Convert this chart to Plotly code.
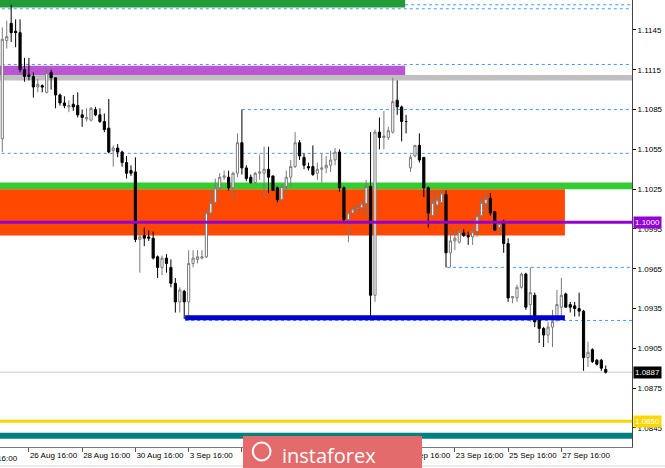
import plotly.graph_objects as go

# ---------------- data (EURUSD H4) ----------------
bar_index = list(range(137))
opens = [1.1063, 1.1137, 1.1150, 1.1144, 1.1143, 1.1115, 1.1111, 1.1110, 1.1102, 1.1103,
         1.1098, 1.1113, 1.1109, 1.1096, 1.1090, 1.1087, 1.1089, 1.1088, 1.1081, 1.1078,
         1.1077, 1.1085, 1.1081, 1.1076, 1.1071, 1.1054, 1.1056, 1.1053, 1.1045, 1.1039,
         1.1038, 1.0987, 1.0990, 1.0989, 1.0988, 1.0974, 1.0966, 1.0973, 1.0966, 1.0954,
         1.0940, 1.0948, 1.0940, 1.0969, 1.0972, 1.0973, 1.0974, 1.1007, 1.1015, 1.1026,
         1.1034, 1.1034, 1.1026, 1.1037, 1.1060, 1.1041, 1.1034, 1.1030, 1.1037, 1.1037,
         1.1040, 1.1035, 1.1026, 1.1017, 1.1027, 1.1034, 1.1042, 1.1060, 1.1049, 1.1042,
         1.1042, 1.1037, 1.1040, 1.1041, 1.1043, 1.1047, 1.1053, 1.1026, 1.1002, 1.1007,
         1.1010, 1.1011, 1.1014, 1.1027, 1.0945, 1.1068, 1.1064, 1.1064, 1.1068, 1.1092,
         1.1087, 1.1076, 1.1041, 1.1050, 1.1058, 1.1049, 1.1026, 1.1005, 1.1013, 1.1015,
         1.1021, 1.0977, 1.0986, 1.0985, 1.0992, 1.0990, 1.0989, 1.0993, 1.1005, 1.1014,
         1.1018, 1.1008, 1.0996, 1.1000, 1.0984, 1.0943, 1.0943, 1.0951, 1.0961, 1.0938,
         1.0945, 1.0928, 1.0920, 1.0915, 1.0921, 1.0926, 1.0936, 1.0946, 1.0938, 1.0937,
         1.0935, 1.0933, 1.0898, 1.0904, 1.0896, 1.0896, 1.0889]
highs = [1.1147, 1.1152, 1.1164, 1.1153, 1.1153, 1.1124, 1.1124, 1.1113, 1.1108, 1.1104,
         1.1116, 1.1115, 1.1109, 1.1097, 1.1095, 1.1092, 1.1096, 1.1098, 1.1085, 1.1086,
         1.1087, 1.1087, 1.1086, 1.1082, 1.1093, 1.1058, 1.1059, 1.1054, 1.1050, 1.1043,
         1.1049, 1.0996, 1.0996, 1.0994, 1.0993, 1.0975, 1.0975, 1.0976, 1.0972, 1.0958,
         1.0951, 1.0949, 1.0979, 1.0979, 1.0979, 1.0979, 1.1009, 1.1024, 1.1033, 1.1037,
         1.1039, 1.1039, 1.1038, 1.1067, 1.1085, 1.1043, 1.1036, 1.1038, 1.1051, 1.1057,
         1.1057, 1.1035, 1.1027, 1.1029, 1.1039, 1.1047, 1.1068, 1.1062, 1.1052, 1.1045,
         1.1058, 1.1045, 1.1052, 1.1050, 1.1054, 1.1056, 1.1055, 1.1027, 1.1009, 1.1012,
         1.1014, 1.1016, 1.1032, 1.1068, 1.1070, 1.1079, 1.1084, 1.1072, 1.1109, 1.1107,
         1.1088, 1.1081, 1.1051, 1.1058, 1.1067, 1.1049, 1.1027, 1.1021, 1.1024, 1.1024,
         1.1024, 1.0994, 1.0994, 1.0995, 1.0995, 1.0993, 1.0996, 1.1008, 1.1019, 1.1024,
         1.1022, 1.1008, 1.1002, 1.1002, 1.0988, 1.0944, 1.0953, 1.0962, 1.0962, 1.0966,
         1.0947, 1.0929, 1.0921, 1.0925, 1.0934, 1.0949, 1.0958, 1.0947, 1.0940, 1.0940,
         1.0947, 1.0934, 1.0910, 1.0905, 1.0897, 1.0897, 1.0892]
lows = [1.1053, 1.1131, 1.1136, 1.1132, 1.1113, 1.1106, 1.1107, 1.1094, 1.1098, 1.1098,
        1.1097, 1.1100, 1.1086, 1.1088, 1.1086, 1.1083, 1.1084, 1.1079, 1.1072, 1.1076,
        1.1076, 1.1080, 1.1075, 1.1068, 1.1052, 1.1042, 1.1049, 1.1042, 1.1033, 1.1035,
        1.0985, 1.0962, 1.0982, 1.0986, 1.0972, 1.0958, 1.0960, 1.0962, 1.0951, 1.0932,
        1.0932, 1.0927, 1.0926, 1.0966, 1.0969, 1.0972, 1.0973, 1.1004, 1.1014, 1.1024,
        1.1032, 1.1024, 1.1017, 1.1034, 1.1036, 1.1031, 1.1029, 1.1029, 1.1032, 1.1019,
        1.1022, 1.1024, 1.1015, 1.1015, 1.1022, 1.1027, 1.1041, 1.1047, 1.1040, 1.1039,
        1.1035, 1.1032, 1.1030, 1.1037, 1.1038, 1.1043, 1.1023, 1.1001, 1.0985, 1.1006,
        1.1007, 1.1009, 1.1005, 1.0926, 1.0940, 1.1055, 1.1055, 1.1062, 1.1067, 1.1081,
        1.1061, 1.1067, 1.1038, 1.1049, 1.1045, 1.1019, 1.0996, 1.1004, 1.1005, 1.1015,
        1.0966, 1.0966, 1.0979, 1.0984, 1.0989, 1.0983, 1.0983, 1.0989, 1.1004, 1.1008,
        1.1005, 1.0994, 1.0992, 1.0977, 1.0940, 1.0939, 1.0940, 1.0950, 1.0934, 1.0925,
        1.0921, 1.0909, 1.0906, 1.0909, 1.0906, 1.0925, 1.0928, 1.0936, 1.0932, 1.0929,
        1.0929, 1.0888, 1.0891, 1.0894, 1.0892, 1.0888, 1.0886]
closes = [1.1138, 1.1140, 1.1143, 1.1143, 1.1115, 1.1110, 1.1110, 1.1102, 1.1104, 1.1102,
          1.1113, 1.1109, 1.1096, 1.1090, 1.1088, 1.1088, 1.1087, 1.1081, 1.1079, 1.1079,
          1.1086, 1.1081, 1.1076, 1.1070, 1.1053, 1.1056, 1.1053, 1.1045, 1.1037, 1.1037,
          1.0987, 1.0989, 1.0988, 1.0988, 1.0973, 1.0966, 1.0973, 1.0969, 1.0954, 1.0940,
          1.0949, 1.0940, 1.0969, 1.0973, 1.0974, 1.0974, 1.1007, 1.1015, 1.1026, 1.1034,
          1.1035, 1.1026, 1.1037, 1.1060, 1.1041, 1.1033, 1.1030, 1.1037, 1.1038, 1.1040,
          1.1034, 1.1024, 1.1017, 1.1027, 1.1034, 1.1042, 1.1060, 1.1050, 1.1043, 1.1041,
          1.1036, 1.1040, 1.1041, 1.1043, 1.1047, 1.1053, 1.1026, 1.1002, 1.1007, 1.1010,
          1.1011, 1.1014, 1.1027, 1.0945, 1.1068, 1.1064, 1.1065, 1.1069, 1.1091, 1.1087,
          1.1076, 1.1076, 1.1049, 1.1058, 1.1047, 1.1026, 1.1007, 1.1015, 1.1017, 1.1022,
          1.0977, 1.0986, 1.0988, 1.0993, 1.0990, 1.0989, 1.0993, 1.1005, 1.1015, 1.1018,
          1.1007, 1.0994, 1.0999, 1.0984, 1.0943, 1.0944, 1.0951, 1.0961, 1.0936, 1.0947,
          1.0925, 1.0920, 1.0915, 1.0921, 1.0925, 1.0938, 1.0945, 1.0936, 1.0936, 1.0935,
          1.0933, 1.0898, 1.0902, 1.0895, 1.0893, 1.0890, 1.0887]

x_tick_index = [6, 18, 30, 42, 54, 66, 78, 90, 102, 114, 126]
x_tick_text = ["26 Aug 16:00", "28 Aug 16:00", "30 Aug 16:00", "3 Sep 16:00", "5 Sep 16:00",
               "9 Sep 16:00", "11 Sep 16:00", "19 Sep 16:00", "23 Sep 16:00",
               "25 Sep 16:00", "27 Sep 16:00"]
first_label_text = "22 Aug 16:00"   # label of the tick before the first one (cut at the left edge)

y_tick_vals = [1.0845, 1.0875, 1.0905, 1.0935, 1.0965, 1.0995, 1.1025, 1.1055, 1.1085, 1.1115, 1.1145]
y_tick_text = ["1.0845", "1.0875", "1.0905", "1.0935", "1.0965", "1.0995", "1.1025", "1.1055",
               "1.1085", "1.1115", "1.1145"]

# zones: (low, high, end bar index or None for full width)
zone_dark_green = (1.1162, 1.1175, 90.8)
zone_orchid = (1.1111, 1.1118, 90.8)
band_gray = (1.1107, 1.1111, None)
band_lime = (1.1025, 1.1030, None)
zone_red = (1.0990, 1.1025, 126.8)
# dotted levels: (price, start bar index or None)
dotted_levels = [(1.1164, 90.8), (1.1161, None), (1.1119, None), (1.1085, 54),
                 (1.1052, None), (1.0966, 100.2), (1.0926, 41.2)]
level_purple = 1.1000
level_blue = (1.0928, 41.2, 126.8)
level_gold = 1.0850
level_teal = 1.0839
bid_price = 1.0887

X_RANGE = [-0.518, 141.92]
Y_RANGE = [1.08306, 1.11676]
LABEL_FONT = dict(family="Liberation Sans, Arial", size=8, color="#000000")

fig = go.Figure()
fig.add_trace(go.Candlestick(
    x=bar_index, open=opens, high=highs, low=lows, close=closes,
    increasing=dict(line=dict(color="#7a7a7a", width=1), fillcolor="#ffffff"),
    decreasing=dict(line=dict(color="#000000", width=1), fillcolor="#000000"),
    whiskerwidth=0, showlegend=False, hoverinfo="skip"))

shapes = []


def rect(lo, hi, end, color):
    x1 = X_RANGE[1] + 5 if end is None else end
    shapes.append(dict(type="rect", xref="x", yref="y", x0=X_RANGE[0] - 5, x1=x1,
                       y0=lo, y1=hi, fillcolor=color, line=dict(width=0), layer="below"))


for price, start in dotted_levels:
    x0 = X_RANGE[0] - 5 if start is None else start
    shapes.append(dict(type="line", xref="x", yref="y", x0=x0, x1=X_RANGE[1] + 5,
                       y0=price, y1=price, line=dict(color="#3d9bff", width=1, dash="dot"),
                       layer="below"))

rect(*zone_dark_green, "#229a35")
rect(*zone_orchid, "#bb55d3")
rect(*band_gray, "#c0c0c0")
rect(*band_lime, "#33cc33")
rect(*zone_red, "#ff4800")

shapes.append(dict(type="line", xref="paper", yref="y", x0=0, x1=1, y0=bid_price, y1=bid_price,
                   line=dict(color="#c8c8c8", width=1), layer="below"))
shapes.append(dict(type="line", xref="paper", yref="y", x0=0, x1=1, y0=level_gold, y1=level_gold,
                   line=dict(color="#ffd700", width=3), layer="below"))
shapes.append(dict(type="line", xref="paper", yref="y", x0=0, x1=1, y0=level_teal, y1=level_teal,
                   line=dict(color="#008080", width=6), layer="below"))
shapes.append(dict(type="line", xref="x", yref="y", x0=level_blue[1], x1=level_blue[2],
                   y0=level_blue[0], y1=level_blue[0], line=dict(color="#0000cd", width=5),
                   layer="above"))
shapes.append(dict(type="line", xref="paper", yref="y", x0=0, x1=1, y0=level_purple, y1=level_purple,
                   line=dict(color="#9400d3", width=3), layer="above"))

# bottom light line and instaforex banner
shapes.append(dict(type="line", xref="paper", yref="paper", x0=0, x1=1.06, y0=-0.0425, y1=-0.0425,
                   line=dict(color="#d8d8d8", width=1), layer="above"))
shapes.append(dict(type="rect", xref="paper", yref="paper", x0=0.3845, x1=0.6677, y0=-0.06, y1=0.0246,
                   fillcolor="#e36b6b", line=dict(width=0), layer="above"))
shapes.append(dict(type="circle", xref="paper", yref="paper", x0=0.400, x1=0.428, y0=-0.030, y1=0.010,
                   line=dict(color="#ffffff", width=2), layer="above"))

annotations = [
    dict(xref="paper", yref="paper", x=0, xshift=-32, y=0, xanchor="left", yanchor="top",
         yshift=-5, text=first_label_text, showarrow=False, font=LABEL_FONT),
    dict(xref="paper", yref="paper", x=0.52, y=-0.018, text="instaforex", showarrow=False,
         xanchor="center", yanchor="middle",
         font=dict(family="Open Sans, Lato", size=20, color="#ffffff")),
    dict(xref="paper", yref="y", x=1, xshift=1, y=level_purple, xanchor="left", yanchor="middle",
         text="1.1000", showarrow=False, bgcolor="#9400d3", borderpad=1,
         font=dict(family="Liberation Sans, Arial", size=8, color="#ffffff")),
    dict(xref="paper", yref="y", x=1, xshift=1, y=bid_price, xanchor="left", yanchor="middle",
         text="1.0887", showarrow=False, bgcolor="#000000", borderpad=1,
         font=dict(family="Liberation Sans, Arial", size=8, color="#ffffff")),
    dict(xref="paper", yref="y", x=1, xshift=1, y=level_gold, xanchor="left", yanchor="middle",
         text="1.0850", showarrow=False, bgcolor="#ffd700", borderpad=1,
         font=dict(family="Liberation Sans, Arial", size=8, color="#ffffff")),
]

fig.update_layout(
    template="none",
    width=665, height=468,
    margin=dict(l=0, r=33, t=0, b=21, autoexpand=False),
    paper_bgcolor="#ffffff", plot_bgcolor="#ffffff",
    shapes=shapes, annotations=annotations, showlegend=False,
    xaxis=dict(range=X_RANGE, tickmode="array", tickvals=x_tick_index, ticktext=x_tick_text,
               ticks="outside", ticklen=4, tickcolor="#555555", showline=True,
               linecolor="#777777", linewidth=1, showgrid=False, zeroline=False,
               tickangle=0, automargin=False,
               ticklabelposition="outside right", rangeslider=dict(visible=False),
               tickfont=LABEL_FONT),
    yaxis=dict(range=Y_RANGE, side="right", tickmode="array", tickvals=y_tick_vals,
               ticktext=y_tick_text, ticks="outside", ticklen=3, tickcolor="#000000",
               showline=True, linecolor="#444444", linewidth=1, showgrid=False,
               zeroline=False, automargin=False, tickfont=LABEL_FONT),
)

fig.write_html("out.html", config={"displayModeBar": False},
               post_script="document.body.style.margin='0';document.body.style.overflow='hidden';")
